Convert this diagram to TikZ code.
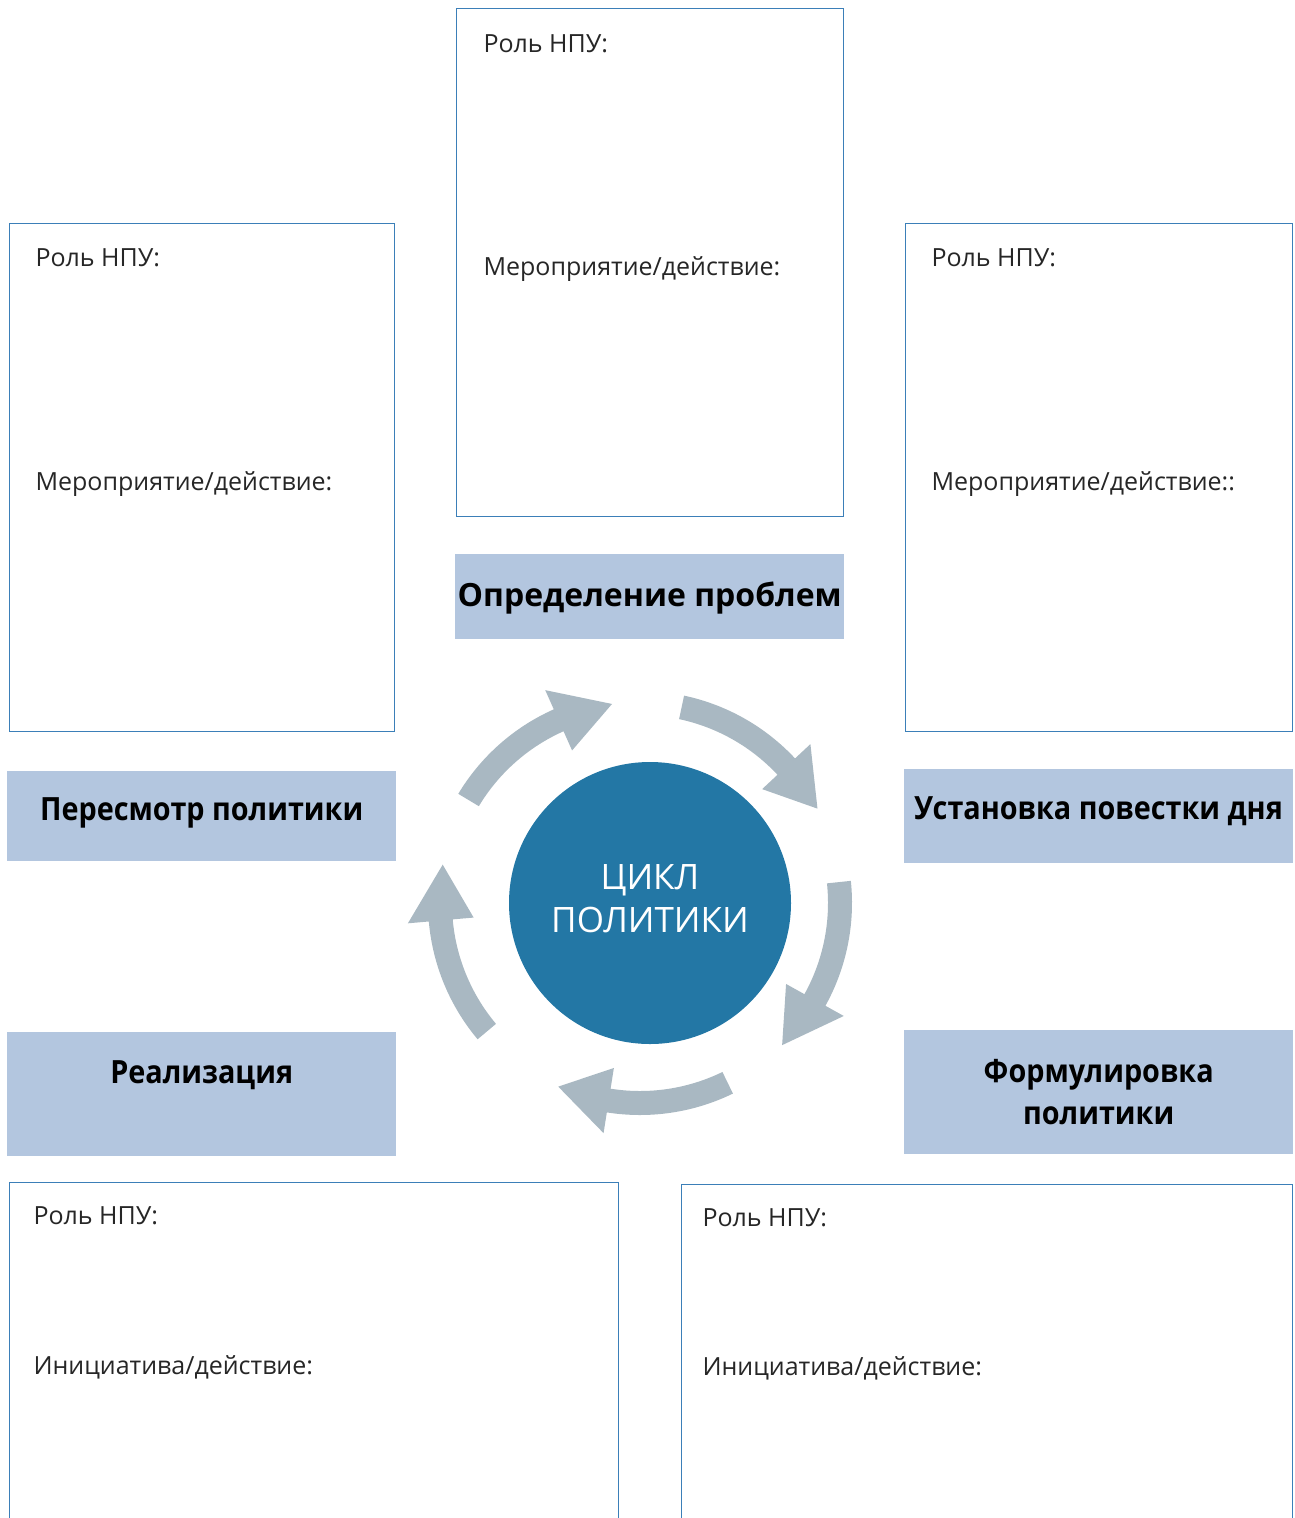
\documentclass[tikz,border=0pt]{standalone}
\usepackage{fontspec}
\setmainfont{Open Sans}
\newfontfamily\tagfont[FakeStretch=0.9]{Open Sans}
\usepackage{xcolor}
\usetikzlibrary{positioning,calc}
\definecolor{frameblue}{HTML}{3B7FB8}
\definecolor{tagblue}{HTML}{B3C6DF}
\definecolor{cycleblue}{HTML}{2377A5}
\definecolor{arrowgray}{HTML}{A9B8C2}

\begin{document}
\begin{tikzpicture}[x=1pt,y=-1pt,
	note box/.style={draw=frameblue,line width=1.2pt,anchor=north west,inner sep=0pt},
	tag box/.style={fill=tagblue,anchor=north west,inner sep=0pt},
	tag text/.style={font=\tagfont\fontsize{32}{42}\selectfont\bfseries,align=center},
	note text/.style={font=\fontsize{25}{30}\selectfont,anchor=west,text=black!85}]

	\useasboundingbox (0,0) rectangle (1294,1518);

	% boxes for notes
	\node[note box, minimum width=387, minimum height=508] (prob) at (456,8) {};
	\node[note box, minimum width=385, minimum height=508] (rev) at (9,223) {};
	\node[note box, minimum width=387, minimum height=508] (agenda) at (905,223) {};
	\node[note box, minimum width=609, minimum height=360] (impl) at (9,1182) {};
	\node[note box, minimum width=611, minimum height=360] (form) at (681,1184) {};

	\node[note text] (probRole) at ($(prob.north west)+(24,36)$) {Роль НПУ:};
	\node[note text] (probAct) at ($(prob.north west)+(24,261)$) {Мероприятие/действие:};
	\node[note text] (revRole) at ($(rev.north west)+(23,35)$) {Роль НПУ:};
	\node[note text] (revAct) at ($(rev.north west)+(23,261)$) {Мероприятие/действие:};
	\node[note text] (agendaRole) at ($(agenda.north west)+(23,35)$) {Роль НПУ:};
	\node[note text] (agendaAct) at ($(agenda.north west)+(23,261)$) {Мероприятие/действие::};
	\node[note text] (implRole) at ($(impl.north west)+(21,34)$) {Роль НПУ:};
	\node[note text] (implAct) at ($(impl.north west)+(21,185)$) {Инициатива/действие:};
	\node[note text] (formRole) at ($(form.north west)+(18,34)$) {Роль НПУ:};
	\node[note text] (formAct) at ($(form.north west)+(18,184)$) {Инициатива/действие:};

	% stage labels
	\node[tag box, minimum width=389, minimum height=85] (probT) at (455,554) {};
	\node[tag box, minimum width=389, minimum height=90] (revT) at (7,771) {};
	\node[tag box, minimum width=389, minimum height=94] (agendaT) at (904,769) {};
	\node[tag box, minimum width=389, minimum height=124] (implT) at (7,1032) {};
	\node[tag box, minimum width=389, minimum height=124] (formT) at (904,1030) {};

	\node[tag text,font=\fontsize{32}{42}\selectfont\bfseries] at ($(probT.center)+(0,1)$) {Определение проблем};
	\node[tag text] at ($(revT.center)+(0,-3)$) {Пересмотр политики};
	\node[tag text] at ($(agendaT.center)+(0,-5)$) {Установка повестки дня};
	\node[tag text] at ($(implT.center)+(0,-19)$) {Реализация};
	\node[tag text] at (formT.center) {Формулировка\\политики};

	% the cycle
	\node[circle,fill=cycleblue,minimum size=282,inner sep=0pt] (cycle) at (650,903) {};
	\node[text=white,font=\fontsize{35}{43}\selectfont,align=center] (cycleT) at ($(cycle.center)+(0,-4)$) {ЦИКЛ\\ПОЛИТИКИ};

	\begin{scope}[shift={($(cycle.center)+(-10,0)$)},yscale=-1]
	\foreach \t/\b/\p in {78/43/28, 6/-29/-45, -64/-99/-114, -140/-175/-191, 149/114/98}
		\fill[arrowgray] (\t:212) arc[start angle=\t, end angle=\b, radius=212]
			-- (\b:233) -- (\p:201) -- (\b:167) -- (\b:188)
			arc[start angle=\b, end angle=\t, radius=188] -- cycle;
	\end{scope}

\end{tikzpicture}
\end{document}
